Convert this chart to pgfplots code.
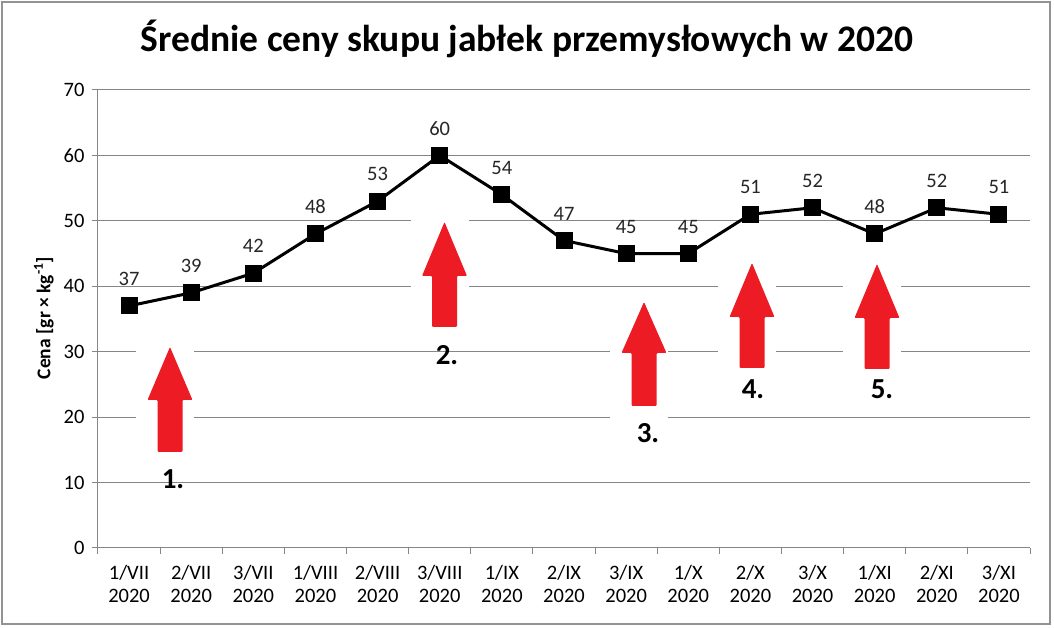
\documentclass[border=0pt]{standalone}
\usepackage{pgfplots}
\pgfplotsset{compat=1.18}
\usepackage{fontspec}
\setmainfont{Carlito}
\definecolor{gridgray}{HTML}{868686}
\definecolor{arrred}{HTML}{ED1C24}
\newcommand\redarrow[4]{%
  \fill[white] (#1-34,#2-12) rectangle (#1+24,#4+14);
  \fill[arrred, rounded corners=1pt] (#1,#2) -- (#1+22.5,#3) -- (#1+12.5,#3) -- (#1+12.5,#4) -- (#1-12.5,#4) -- (#1-12.5,#3) -- (#1-22.5,#3) -- cycle;}
\begin{document}
\begin{tikzpicture}[x=1pt,y=1pt]
\useasboundingbox (-98,-80) rectangle (956,548);
\fill[white] (-98,-80) rectangle (956,548);
\draw[gray!85, line width=2.5pt] (-96,-76) rectangle (952,546);
\begin{axis}[
  at={(0,0)}, anchor=south west,
  scale only axis, width=932pt, height=458pt,
  xmin=-0.5, xmax=14.5, ymin=0, ymax=70,
  xtick={-0.5,0.5,...,14.5},
  x tick label as interval,
  xticklabels={{1/VII\\2020},{2/VII\\2020},{3/VII\\2020},{1/VIII\\2020},{2/VIII\\2020},{3/VIII\\2020},{1/IX\\2020},{2/IX\\2020},{3/IX\\2020},{1/X\\2020},{2/X\\2020},{3/X\\2020},{1/XI\\2020},{2/XI\\2020},{3/XI\\2020}},
  ytick={0,10,...,70},
  ymajorgrids,
  grid style={gridgray, line width=1pt},
  axis x line*=bottom, axis y line*=left,
  axis line style={gridgray, line width=1pt, -},
  tick style={gridgray, line width=1pt},
  tick align=outside, major tick length=6pt,
  /pgf/number format/assume math mode=true,
  x tick label style={align=center, font=\fontsize{20.5}{23}\selectfont, text=black, yshift=-8pt},
  y tick label style={font=\fontsize{20.5}{23}\selectfont, text=black, xshift=-4pt},
  title={Średnie ceny skupu jabłek przemysłowych w 2020},
  title style={at={(axis description cs:0.4603,1.0983)}, anchor=center, font=\bfseries\fontsize{37.5}{42}\selectfont},
  ylabel={Cena [gr × kg\textsuperscript{-1}]},
  ylabel style={at={(axis description cs:-0.058,0.502)}, anchor=center, font=\bfseries\fontsize{19.5}{21}\selectfont},
  clip=false,
]
\addplot[black, line width=3pt, mark=square*, mark size=7pt, mark options={solid},
  nodes near coords,
  every node near coord/.append style={font=\fontsize{20.5}{22}\selectfont, text=black!85, anchor=center, yshift=27pt}]
  coordinates {(0,37) (1,39) (2,42) (3,48) (4,53) (5,60) (6,54) (7,47) (8,45) (9,45) (10,51) (11,52) (12,48) (13,52) (14,51)};
\end{axis}
\begin{scope}[shift={(-98pt,548pt)}, x=1pt, y=-1pt]
  \redarrow{170}{347}{400}{452}
  \redarrow{444.5}{222}{276}{327}
  \redarrow{644}{302}{353}{406}
  \redarrow{752}{263}{317}{368}
  \redarrow{877}{264}{318}{369}
  \begin{scope}[every node/.style={font=\bfseries\fontsize{29}{31}\selectfont}]
  \node at (173,479) {1.};
  \node at (447,355) {2.};
  \node at (648,433) {3.};
  \node at (753,389) {4.};
  \node at (882,389) {5.};
  \end{scope}
\end{scope}
\end{tikzpicture}
\end{document}
